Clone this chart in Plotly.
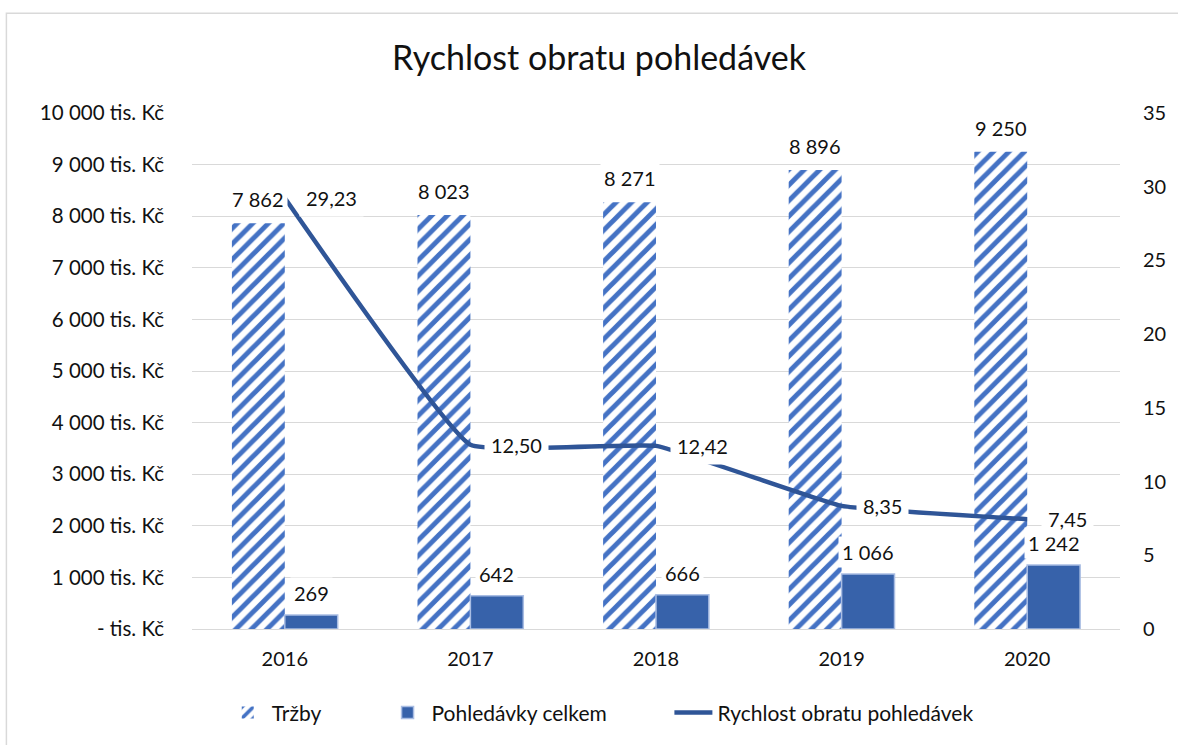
import plotly.graph_objects as go

years = ["2016", "2017", "2018", "2019", "2020"]
trzby = [7862, 8023, 8271, 8896, 9250]
pohledavky = [269, 642, 666, 1066, 1242]
rychlost = [29.23, 12.50, 12.42, 8.35, 7.45]

left_ticks = [0, 1000, 2000, 3000, 4000, 5000, 6000, 7000, 8000, 9000, 10000]
left_text = ["- tis. Kč"] + [f"{v:,}".replace(",", " ") + " tis. Kč" for v in left_ticks[1:]]
right_ticks = [0, 5, 10, 15, 20, 25, 30, 35]

FONT = "Lato"
HATCH = "#4472C4"
SOLID = "#3762AA"
LINE = "#2F5597"

ML, MR, MT, MB = 192, 51, 113, 115
PW = 1178 - ML - MR
PH = 745 - MT - MB

def px_x(p):
    return (p - ML) / PW

def px_y(p):
    return (745 - MB - p) / PH

def fmt_int(v):
    return f"{v:,}".replace(",", " ")

def fmt_dec(v):
    return f"{v:.2f}".replace(".", ",")

fig = go.Figure()
fig.add_trace(go.Bar(
    x=years, y=trzby, name="Tržby", legend="legend", showlegend=True,
    marker=dict(color="white", line=dict(width=0),
                pattern=dict(shape="/", fgcolor=HATCH, bgcolor="white",
                             size=11, solidity=0.45, fillmode="replace")),
))
fig.add_trace(go.Bar(
    x=years, y=pohledavky, name="Pohledávky celkem", legend="legend2", showlegend=True,
    marker=dict(color=SOLID, line=dict(color="#A9BDE3", width=1.5)),
))
fig.add_trace(go.Scatter(
    x=years, y=rychlost, name="Rychlost obratu pohledávek", yaxis="y2", legend="legend3",
    showlegend=True,
    mode="lines", line=dict(color=LINE, width=4.5, shape="spline", smoothing=0.3),
))

ann = []
for i, v in enumerate(trzby):
    ann.append(dict(x=i, y=v, xref="x", yref="y", text=fmt_int(v), showarrow=False,
                    xshift=-26.5, yanchor="bottom", yshift=8, bgcolor="white",
                    borderpad=3, font=dict(size=20, color="#111")))
for i, v in enumerate(pohledavky):
    ann.append(dict(x=i, y=v, xref="x", yref="y", text=fmt_int(v), showarrow=False,
                    xshift=26.5, yanchor="bottom", yshift=6, bgcolor="white",
                    borderpad=3, font=dict(size=20, color="#111")))
for i, v in enumerate(rychlost):
    ann.append(dict(x=i, y=v, xref="x", yref="y2", text=fmt_dec(v), showarrow=False,
                    xanchor="left", xshift=14, yanchor="middle", bgcolor="white",
                    borderpad=6, font=dict(size=20, color="#111")))

leg_common = dict(orientation="h", xanchor="left", yanchor="middle", y=px_y(714),
                  font=dict(size=21), itemwidth=38, bgcolor="rgba(0,0,0,0)", visible=True)

fig.update_layout(
    width=1178, height=745,
    paper_bgcolor="white", plot_bgcolor="white",
    font=dict(family=FONT, size=16, color="#111"),
    margin=dict(l=ML, r=MR, t=MT, b=MB),
    showlegend=True,
    title=dict(text="Rychlost obratu pohledávek", x=599 / 1178, xanchor="center",
               y=1 - 58 / 745, yanchor="middle", font=dict(size=34, color="#111")),
    barmode="group", bargap=0.43, bargroupgap=0,
    xaxis=dict(type="category", range=[-0.5, 4.5], autorange=False, showgrid=False,
               showline=True, linecolor="#D9D9D9",
               linewidth=1, ticks="", tickfont=dict(size=20), ticklabelstandoff=12),
    yaxis=dict(range=[0, 10000], autorange=False, tickvals=left_ticks, ticktext=left_text,
               showgrid=True, gridcolor="#D9D9D9", gridwidth=1, zeroline=False,
               showline=False, ticks="", tickfont=dict(size=20.5), ticklabelstandoff=27),
    yaxis2=dict(range=[0, 35], autorange=False, tickvals=right_ticks, overlaying="y",
                side="right", showgrid=False, zeroline=False, showline=False, ticks="",
                tickfont=dict(size=20), ticklabelstandoff=22),
    legend=dict(x=px_x(224), **leg_common),
    legend2=dict(x=px_x(385), **leg_common),
    legend3=dict(x=px_x(673), **leg_common),
    annotations=ann,
    shapes=[dict(type="rect", xref="paper", yref="paper", x0=px_x(5), x1=1.3,
                 y0=-0.5, y1=px_y(13), line=dict(color="#D9D9D9", width=1.5),
                 fillcolor="rgba(0,0,0,0)", layer="below")],
)

fig.write_html("out.html", post_script="document.body.style.margin='0';",
               config={"displayModeBar": False})
